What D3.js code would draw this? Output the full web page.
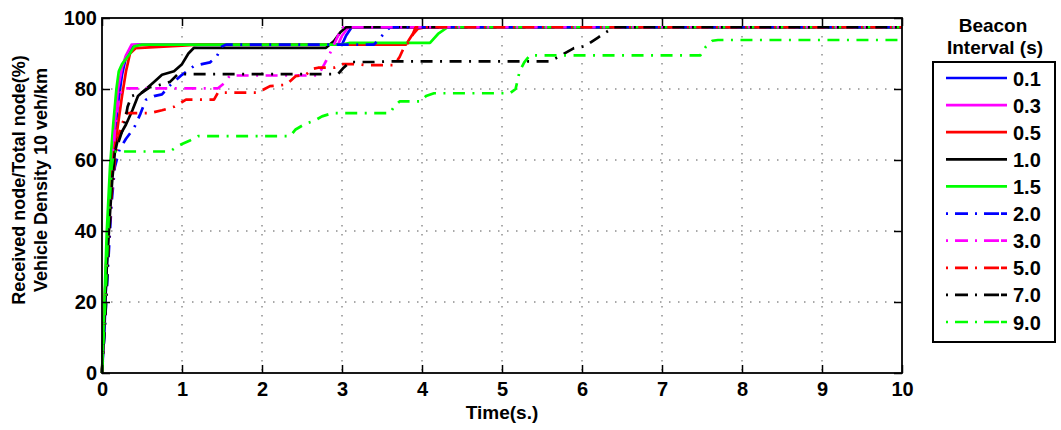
<!DOCTYPE html>
<html lang="en">
<head>
    <meta charset="UTF-8">
    <title>Beacon Interval - Received node ratio</title>
    <script src="https://d3js.org/d3.v7.min.js"></script>
    <style>
        * {
            margin: 0;
            padding: 0;
            box-sizing: border-box;
        }

        body {
            background: #fff;
            overflow: hidden;
            font-family: 'Liberation Sans', Arial, Helvetica, sans-serif;
        }

        .tick-label {
            font-size: 20px;
            font-weight: bold;
            fill: #000;
        }

        .grid line {
            stroke: #555;
            stroke-width: 1;
            stroke-dasharray: 1.5, 7.5;
        }
    </style>
</head>
<body>
    <div id="chart"></div>

    <script>
        // beacon intervals (legend labels)
        const intervals = ['0.1', '0.3', '0.5', '1.0', '1.5', '2.0', '3.0', '5.0', '7.0', '9.0'];

        // each series: [time (s), received/total (%)]
        const bi01 = [[0,0],[0.03,12],[0.05,25],[0.08,40],[0.11,52],[0.15,65],[0.2,76],[0.25,84],[0.3,89],[0.38,92.3],[0.45,92.5],[3.0,92.5],[3.05,95],[3.12,97.4],[10,97.4]];
        const bi03 = [[0,0],[0.03,18],[0.06,35],[0.1,50],[0.15,68],[0.2,80],[0.25,86],[0.3,89.5],[0.37,92.5],[2.95,92.5],[3.0,95],[3.08,97.4],[10,97.4]];
        const bi05 = [[0,0],[0.03,18],[0.06,35],[0.1,50],[0.15,62],[0.2,70],[0.25,78],[0.3,85],[0.35,90],[0.42,91.5],[1.0,92.2],[1.2,92.5],[3.8,92.5],[3.87,95],[3.95,97],[4.05,97.4],[10,97.4]];
        const bi10 = [[0,0],[0.03,15],[0.06,30],[0.1,45],[0.13,55],[0.16,62],[0.2,66],[0.3,70],[0.38,74],[0.45,78],[0.55,80],[0.65,82],[0.75,84],[0.9,85],[1.0,87],[1.08,90],[1.15,91.6],[2.8,91.6],[2.9,93.5],[2.98,96],[3.05,97.4],[10,97.4]];
        const bi15 = [[0,0],[0.03,20],[0.06,40],[0.1,58],[0.14,70],[0.18,80],[0.21,85],[0.25,87],[0.3,88.5],[0.35,90],[0.4,92],[0.5,92.5],[3.0,92.5],[3.1,93],[4.1,93],[4.2,95.5],[4.32,97.4],[10,97.4]];
        const bi20 = [[0,0],[0.04,15],[0.08,32],[0.12,48],[0.16,58],[0.22,63],[0.3,66],[0.4,69],[0.48,73],[0.55,77],[0.65,78],[0.75,78.5],[0.85,81],[1.0,84],[1.15,86.5],[1.35,87.5],[1.43,89],[1.5,92],[1.55,92.5],[3.4,92.5],[3.5,95],[3.6,97.4],[10,97.4]];
        const bi30 = [[0,0],[0.04,18],[0.08,38],[0.12,55],[0.16,68],[0.2,76],[0.25,80.2],[1.45,80.2],[1.52,81.5],[1.6,83.8],[2.7,83.8],[2.78,87],[2.86,90.5],[2.93,94],[3.0,97.4],[10,97.4]];
        const bi50 = [[0,0],[0.04,18],[0.08,36],[0.12,50],[0.16,60],[0.22,68],[0.3,73.2],[0.6,73.2],[0.75,74],[0.9,75],[1.05,77],[1.4,77],[1.45,79],[1.95,79],[2.1,80.8],[2.3,81.2],[2.42,83.6],[2.55,84],[2.62,85.6],[2.7,86],[2.9,86],[3.0,87],[3.2,87],[3.3,86.7],[3.65,86.7],[3.72,89],[3.78,92],[3.85,93.5],[3.92,97.4],[10,97.4]];
        const bi70 = [[0,0],[0.04,15],[0.08,35],[0.12,52],[0.16,62],[0.22,66],[0.28,70],[0.32,75],[0.37,78],[0.5,79],[0.6,80.5],[0.7,81],[0.85,82],[0.95,84.2],[2.95,84.2],[3.02,86],[3.1,87.6],[3.4,87.6],[3.6,87.8],[5.6,87.8],[5.7,89],[5.9,91.5],[6.03,92],[6.2,94.5],[6.3,96],[6.4,97.4],[10,97.4]];
        const bi90 = [[0,0],[0.04,20],[0.08,42],[0.12,58],[0.15,62.4],[0.85,62.4],[0.92,63.5],[1.0,64.5],[1.1,65.5],[1.2,66.7],[2.35,66.7],[2.42,68.6],[2.55,70.3],[2.65,71],[2.75,72.3],[2.88,73.2],[3.6,73.2],[3.65,75],[3.72,76.5],[3.98,76.5],[4.05,78],[4.15,78.8],[5.1,78.8],[5.17,80],[5.22,85],[5.28,87.6],[5.35,89.5],[7.48,89.5],[7.55,92],[7.63,93.6],[7.7,93.8],[10,93.8]];

        const seriesData = [bi01, bi03, bi05, bi10, bi15, bi20, bi30, bi50, bi70, bi90];

        const xTicks = [0, 1, 2, 3, 4, 5, 6, 7, 8, 9, 10];
        const yTicks = [0, 20, 40, 60, 80, 100];

        const colors = ['#0000ff', '#ff00ff', '#ff0000', '#000000', '#00ff00',
                        '#0000ff', '#ff00ff', '#ff0000', '#000000', '#00ff00'];
        const dashDot = '12,7.5,2,7.5';

        const width = 1061, height = 430;
        const plot = { left: 102, right: 902, top: 18, bottom: 373 };

        const svg = d3.select('#chart')
            .append('svg')
            .attr('width', width)
            .attr('height', height)
            .style('background', '#fff');

        const x = d3.scaleLinear().domain([0, 10]).range([plot.left, plot.right]);
        const y = d3.scaleLinear().domain([0, 100]).range([plot.bottom, plot.top]);

        // dotted grid
        const grid = svg.append('g').attr('class', 'grid');
        grid.selectAll('.gx')
            .data(xTicks.slice(1, -1))
            .join('line')
            .attr('x1', d => x(d)).attr('x2', d => x(d))
            .attr('y1', plot.top).attr('y2', plot.bottom);
        grid.selectAll('.gy')
            .data(yTicks.slice(1, -1))
            .join('line')
            .attr('class', 'gy')
            .attr('x1', plot.left).attr('x2', plot.right)
            .attr('y1', d => y(d)).attr('y2', d => y(d));

        // series lines, drawn in legend order so later ones sit on top
        const line = d3.line()
            .x(d => x(d[0]))
            .y(d => y(d[1]));

        svg.append('g')
            .selectAll('path')
            .data(seriesData)
            .join('path')
            .attr('d', line)
            .attr('fill', 'none')
            .attr('stroke', (d, i) => colors[i])
            .attr('stroke-width', 2.7)
            .attr('stroke-linejoin', 'round')
            .attr('stroke-dasharray', (d, i) => i >= 5 ? dashDot : null);

        // axes: inward ticks on all four sides, box around the plot
        const tickLen = 8;
        const axisG = svg.append('g');

        axisG.append('g')
            .attr('transform', `translate(0,${plot.bottom})`)
            .call(d3.axisBottom(x).tickValues(xTicks).tickSizeInner(-tickLen).tickSizeOuter(0).tickPadding(9))
            .call(g => g.select('.domain').remove());
        axisG.append('g')
            .attr('transform', `translate(0,${plot.top})`)
            .call(d3.axisTop(x).tickValues(xTicks).tickSizeInner(-tickLen).tickSizeOuter(0).tickFormat(''))
            .call(g => g.select('.domain').remove());
        axisG.append('g')
            .attr('transform', `translate(${plot.left},0)`)
            .call(d3.axisLeft(y).tickValues(yTicks).tickSizeInner(-tickLen).tickSizeOuter(0).tickPadding(5))
            .call(g => g.select('.domain').remove());
        axisG.append('g')
            .attr('transform', `translate(${plot.right},0)`)
            .call(d3.axisRight(y).tickValues(yTicks).tickSizeInner(-tickLen).tickSizeOuter(0).tickFormat(''))
            .call(g => g.select('.domain').remove());

        axisG.selectAll('.tick line').attr('stroke', '#000').attr('stroke-width', 1.5);
        axisG.selectAll('.tick text')
            .attr('class', 'tick-label')
            .attr('font-family', null)
            .attr('font-size', null);

        svg.append('rect')
            .attr('x', plot.left).attr('y', plot.top)
            .attr('width', plot.right - plot.left)
            .attr('height', plot.bottom - plot.top)
            .attr('fill', 'none')
            .attr('stroke', '#000')
            .attr('stroke-width', 1.8);

        // axis titles
        svg.append('text')
            .attr('x', (plot.left + plot.right) / 2)
            .attr('y', 419)
            .attr('text-anchor', 'middle')
            .attr('font-size', 19)
            .attr('font-weight', 'bold')
            .text('Time(s.)');

        const ylab = svg.append('text')
            .attr('transform', 'translate(25,180) rotate(-90)')
            .attr('text-anchor', 'middle')
            .attr('font-size', 18)
            .attr('font-weight', 'bold');
        ylab.append('tspan').attr('x', 0).attr('y', 0).text('Received node/Total node(%)');
        ylab.append('tspan').attr('x', 0).attr('y', 22).text('Vehicle Density 10 veh/km');

        // legend
        const legend = svg.append('g');
        legend.append('text')
            .attr('x', 993).attr('y', 32)
            .attr('text-anchor', 'middle')
            .attr('font-size', 19)
            .attr('font-weight', 'bold')
            .text('Beacon');
        legend.append('text')
            .attr('x', 995).attr('y', 54)
            .attr('text-anchor', 'middle')
            .attr('font-size', 19)
            .attr('font-weight', 'bold')
            .text('Interval (s)');

        legend.append('rect')
            .attr('x', 933).attr('y', 62)
            .attr('width', 122).attr('height', 280)
            .attr('fill', '#fff')
            .attr('stroke', '#000')
            .attr('stroke-width', 2);

        const rowY = d3.scalePoint().domain(intervals).range([78, 322]);

        const rows = legend.selectAll('.row')
            .data(intervals)
            .join('g')
            .attr('class', 'row')
            .attr('transform', d => `translate(0,${rowY(d)})`);

        rows.append('line')
            .attr('x1', 946).attr('x2', 1007)
            .attr('stroke', (d, i) => colors[i])
            .attr('stroke-width', 2.7)
            .attr('stroke-dasharray', (d, i) => i >= 5 ? '2,7,13,7,2,7,15' : null);

        rows.append('text')
            .attr('x', 1013).attr('y', 7.5)
            .attr('font-size', 20)
            .attr('font-weight', 'bold')
            .text(d => d);
    </script>
</body>
</html>
